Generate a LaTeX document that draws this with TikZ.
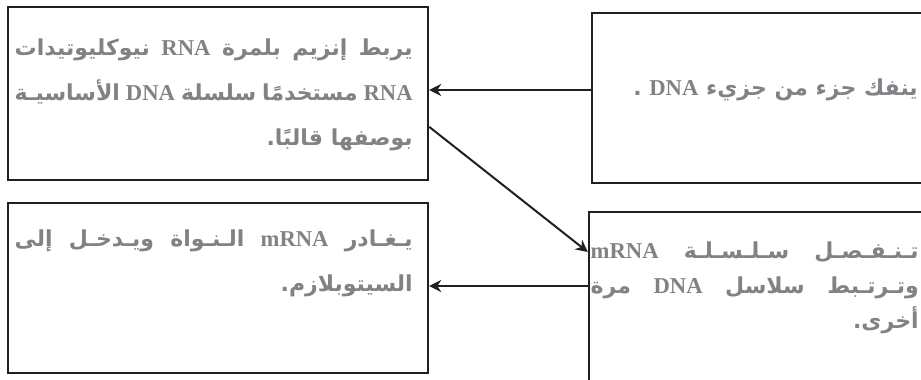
\documentclass[tikz,border=0pt]{standalone}
\usepackage{fontspec}
\usetikzlibrary{arrows.meta}
\TeXXeTstate=1
\newfontfamily\arabicfont[Script=Arabic]{DejaVu Sans}
\newfontfamily\latinfont{Liberation Serif}
\definecolor{boxline}{RGB}{35,31,32}
\definecolor{textgray}{RGB}{128,130,133}
%% Latin words inside the Arabic lines
\newcommand{\lat}[1]{{\latinfont\bfseries\fontsize{17}{17}\selectfont\beginL#1\endL}}
%% One justified line
\newcommand{\jline}[2]{\makebox[#1][s]{#2}}
\tikzset{
  stage/.style={draw=boxline, line width=1.8pt, inner sep=0pt},
  stagetext/.style={text=textgray, inner sep=0pt, align=right,
    font=\arabicfont\bfseries\fontsize{16.5}{33.75}\selectfont}
}

\begin{document}
\begin{tikzpicture}[x=0.75pt, y=-0.75pt]
    \useasboundingbox (0,0) rectangle (921,379);
    \clip (0,0) rectangle (921,379);
    %% Draw the boxes
    \node[stage, minimum width=315pt, minimum height=129.75pt] (bind) at (218,93.5) {};
    \node[stage, minimum width=261pt, minimum height=127.5pt] (unwind) at (766,98) {};
    \node[stage, minimum width=315pt, minimum height=127.5pt] (leave) at (218,288) {};
    \node[stage, minimum width=263.25pt, minimum height=141pt] (separate) at (764.5,306) {};
    %% Draw the texts
    \node[stagetext, anchor=east] (bindtxt) at (413,95) {%
      \jline{298.5pt}{\beginR يربط إنزيم بلمرة \lat{RNA} نيوكليوتيدات\endR}\\
      \jline{298.5pt}{\beginR \lat{RNA} مستخدمًا سلسلة \lat{DNA} الأساسيـة\endR}\\
      \beginR بوصفها قالبًا.\endR};
    \node[stagetext, anchor=east] (unwindtxt) at (918,90) {%
      \beginR ينفك جزء من جزيء \lat{DNA} .\endR};
    \node[stagetext, anchor=east] (leavetxt) at (413,263.5) {%
      \jline{298.5pt}{\beginR يـغـادر \lat{mRNA} الـنـواة ويـدخـل إلى\endR}\\
      \beginR السيتوبلازم.\endR};
    \node[stagetext, anchor=east, font=\arabicfont\bfseries\fontsize{16.5}{26.25}\selectfont] (separatetxt) at (919,288) {%
      \jline{246pt}{\beginR تـنـفـصـل سـلـسـلـة \lat{mRNA}\endR}\\
      \jline{246pt}{\beginR وتـرتـبط سلاسل \lat{DNA} مرة\endR}\\
      \beginR أخرى.\endR};
    %% Draw the connectors
    \begin{scope}[every path/.style={draw=boxline, line width=1.5pt, -{Stealth[length=9pt,width=9pt]}}]
      \draw ([yshift=6pt]unwind.west) -- ([yshift=6pt]unwind.west -| bind.east);
      \draw ([yshift=-25pt]bind.east) -- ([yshift=40.5pt]separate.west);
      \draw ([yshift=15pt]separate.west) -- ([yshift=15pt]separate.west -| leave.east);
    \end{scope}
  \end{tikzpicture}
\end{document}
